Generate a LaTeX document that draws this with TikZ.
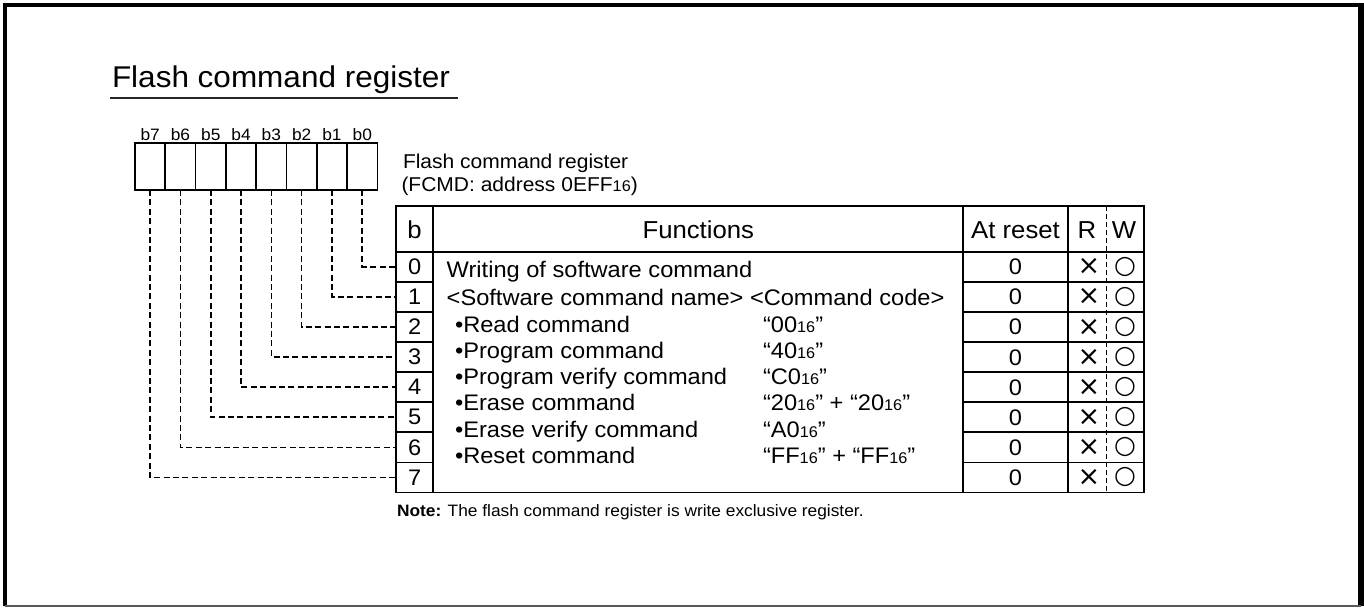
\documentclass[tikz,border=0pt]{standalone}
\usepackage{fontspec}
\setmainfont{Liberation Sans}[FakeStretch=1.05]
\newfontfamily\symfont{DejaVu Sans}
\newcommand{\subsixteen}{{\fontsize{15.5}{15.5}\selectfont 16}}
\begin{document}
\begin{tikzpicture}[x=1pt,y=-1pt,
  every node/.style={inner sep=0pt, outer sep=0pt},
  bitbox/.style={draw, line width=1.7pt, minimum width=30.3pt, minimum height=47pt, anchor=north west},
  bitlbl/.style={font=\fontsize{16.5}{16.5}\selectfont, anchor=base},
  tline/.style={line width=1.7pt},
  rwsep/.style={line width=1.3pt, dash pattern=on 5pt off 3pt},
  conn/.style={line width=1.6pt, dash pattern=on 6pt off 3.4pt},
  bcell/.style={minimum width=37.3pt, minimum height=30.1pt, anchor=west, font=\fontsize{22.5}{22.5}\selectfont},
  ftext/.style={font=\fontsize{22.5}{22.5}\selectfont, anchor=base west},
  hdr/.style={font=\fontsize{24.5}{24.5}\selectfont, anchor=base},
  zero/.style={font=\fontsize{22.5}{22.5}\selectfont, anchor=base},
  xmark/.style={font=\symfont\fontsize{27}{27}\selectfont},
  omark/.style={font=\symfont\fontsize{25}{25}\selectfont},
]
\useasboundingbox (0,0) rectangle (1364,608);
% frame
\draw[line width=4pt] (5.3,606) -- (5.3,5.3) -- (1361,5.3);
\draw[line width=5.7pt] (1361.2,3.3) -- (1361.2,606);
\draw[line width=1.2pt, black!65] (5.3,606) -- (1361,606);
% title
\node[anchor=base west, font=\fontsize{30}{30}\selectfont] (title) at (112,87) {Flash command register};
\draw[line width=1.5pt, black!85] (110,98) -- (458,98);
% register bits
\foreach \b in {0,...,7} {
  \node[bitbox] (bit\b) at ({135+30.3*(7-\b)},143) {};
  \node[bitlbl] (bl\b) at ({150.15+30.3*(7-\b)},140) {b\b};
}
\node[anchor=base west, font=\fontsize{20}{20}\selectfont] (reg1) at (403,168) {Flash command register};
\node[anchor=base west, font=\fontsize{20}{20}\selectfont] (reg2) at (401.5,191) {(FCMD: address 0EFF\subsixteen)};
% table lines
\draw[tline] (396,206) rectangle (1144.3,492.5);
\draw[tline] (396,251.7) -- (1144.3,251.7);
\draw[tline] (433.3,206) -- (433.3,492.5);
\draw[tline] (963.3,206) -- (963.3,492.5);
\draw[tline] (1067.7,206) -- (1067.7,492.5);
\draw[rwsep] (1106.7,206) -- (1106.7,492.5);
\foreach \k in {1,...,7} {
  \draw[tline] (396,{251.7+30.1*\k}) -- (433.3,{251.7+30.1*\k});
  \draw[tline] (963.3,{251.7+30.1*\k}) -- (1144.3,{251.7+30.1*\k});
}
% header
\node[hdr] (hb) at (414.6,238) {b};
\node[hdr] (hf) at (698.3,238) {Functions};
\node[hdr] (ha) at (1015.5,238) {At reset};
\node[hdr] (hr) at (1087,238) {R};
\node[hdr] (hw) at (1124,238) {W};
% rows
\foreach \k in {0,...,7} {
  \pgfmathsetmacro\yc{266.75+30.1*\k}
  \node[bcell] (rc\k) at (396,\yc) {\k};
  \node[zero] (z\k) at (1015.5,{\yc+8}) {0};
  \node[xmark] (x\k) at (1089,\yc) {×};
  \node[omark] (o\k) at (1125,\yc) {○};
  \draw[conn] (bit\k.south) |- (rc\k.west);
}
% functions text
\node[ftext] (f0) at (446.7,277) {Writing of software command};
\node[ftext] (f1) at (446.7,305.5) {<Software command name> <Command code>};
\node[ftext] (n0) at (455,332) {•Read command};
\node[ftext] (n1) at (455,358.3) {•Program command};
\node[ftext] (n2) at (455,384.6) {•Program verify command};
\node[ftext] (n3) at (455,410.9) {•Erase command};
\node[ftext] (n4) at (455,437.2) {•Erase verify command};
\node[ftext] (n5) at (455,463.5) {•Reset command};
\node[ftext] (c0) at (763,332) {“00\subsixteen”};
\node[ftext] (c1) at (763,358.3) {“40\subsixteen”};
\node[ftext] (c2) at (763,384.6) {“C0\subsixteen”};
\node[ftext] (c3) at (763,410.9) {“20\subsixteen” + “20\subsixteen”};
\node[ftext] (c4) at (763,437.2) {“A0\subsixteen”};
\node[ftext] (c5) at (763,463.5) {“FF\subsixteen” + “FF\subsixteen”};
% note
\node[anchor=base west, font=\fontsize{16.5}{16.5}\selectfont] (note) at (397,516) {\textbf{Note:} The flash command register is write exclusive register.};
\end{tikzpicture}
\end{document}
